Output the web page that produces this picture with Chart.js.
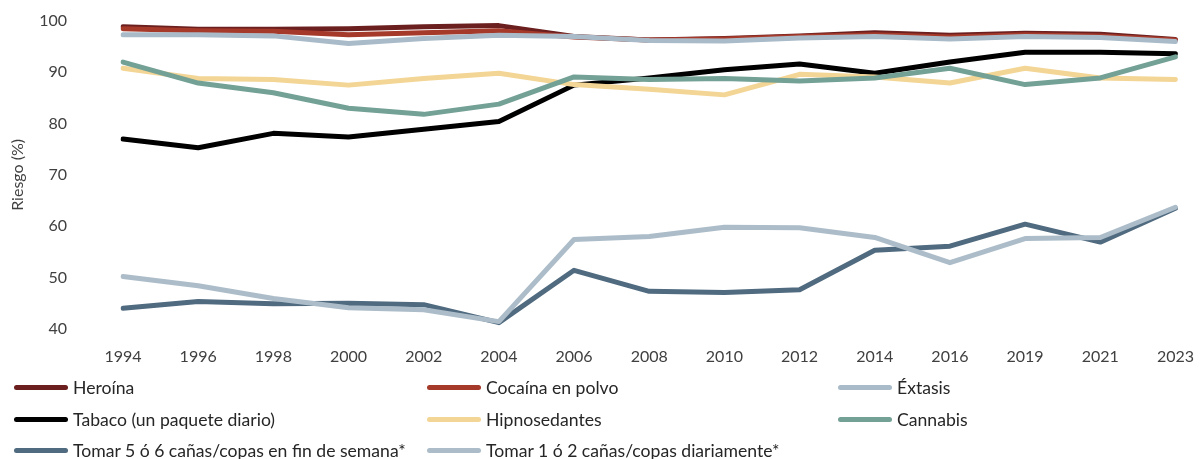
<!DOCTYPE html>
<html>
<head>
<meta charset="utf-8">
<script src="https://cdn.jsdelivr.net/npm/chart.js@4.4.1/dist/chart.umd.min.js"></script>
<style>
  html, body { margin: 0; padding: 0; background: #fff; overflow: hidden; }
  #wrap { position: absolute; left: 0; top: 0; width: 1204px; height: 376px; }
  #legend { position: absolute; left: 0; top: 0; width: 1204px; height: 459px; font-family: Lato, "Open Sans", sans-serif; font-size: 17.6px; color: #262626; pointer-events: none; }
  .item { position: absolute; display: flex; align-items: center; white-space: nowrap; height: 20px; }
  .swatch { width: 54px; height: 5px; border-radius: 3px; margin-right: 5px; }
</style>
</head>
<body>
<div id="wrap"><canvas id="chart" width="1204" height="376"></canvas></div>
<div id="legend"></div>
<script>
// Years
const years = ["1994", "1996", "1998", "2000", "2002", "2004", "2006", "2008", "2010", "2012", "2014", "2016", "2019", "2021", "2023"];

// Series values (% riesgo percibido)
const heroina      = [98.9, 98.4, 98.4, 98.5, 98.9, 99.1, 97.0, 96.3, 96.6, 97.1, 97.7, 97.2, 97.6, 97.4, 96.4];
const cocaina      = [98.5, 98.1, 98.0, 97.3, 97.7, 98.1, 96.9, 96.3, 96.5, 97.0, 97.3, 96.9, 97.3, 97.1, 96.3];
const extasis      = [97.3, 97.3, 97.1, 95.6, 96.6, 97.2, 97.0, 96.2, 96.1, 96.7, 97.0, 96.5, 97.0, 96.8, 96.0];
const tabaco       = [77.0, 75.3, 78.1, 77.4, 78.9, 80.4, 87.5, 88.9, 90.5, 91.6, 89.8, 92.0, 93.9, 93.9, 93.6];
const hipnosed     = [90.8, 88.8, 88.6, 87.5, 88.8, 89.8, 87.6, 86.7, 85.6, 89.6, 89.1, 87.9, 90.8, 88.9, 88.6];
const cannabis     = [92.0, 87.9, 86.0, 83.0, 81.8, 83.8, 89.1, 88.6, 88.8, 88.3, 88.9, 90.8, 87.6, 88.9, 93.0];
const tomar56      = [44.0, 45.3, 44.9, 45.0, 44.7, 41.2, 51.4, 47.3, 47.1, 47.6, 55.3, 56.1, 60.4, 56.9, 63.5];
const tomar12      = [50.2, 48.4, 45.9, 44.1, 43.7, 41.4, 57.4, 58.0, 59.8, 59.7, 57.8, 52.9, 57.6, 57.8, 63.7];

const seriesNames = [
  "Heroína", "Cocaína en polvo", "Éxtasis",
  "Tabaco (un paquete diario)", "Hipnosedantes", "Cannabis",
  "Tomar 5 ó 6 cañas/copas en fin de semana*", "Tomar 1 ó 2 cañas/copas diariamente*"
];
const seriesData = [heroina, cocaina, extasis, tabaco, hipnosed, cannabis, tomar56, tomar12];
const seriesColors = ["#6B1F1F", "#A5392A", "#A9BBC8", "#000000", "#F3D595", "#74A195", "#506A7F", "#ACBDC9"];

const datasets = seriesNames.map((name, i) => ({
  label: name,
  data: seriesData[i],
  borderColor: seriesColors[i],
  backgroundColor: seriesColors[i],
  borderWidth: 5,
  borderCapStyle: "round",
  borderJoinStyle: "round",
  pointRadius: 0,
  tension: 0,
  order: seriesNames.length - i   // later series drawn on top
}));

const chart = new Chart(document.getElementById("chart"), {
  type: "line",
  data: { labels: years, datasets },
  options: {
    responsive: false,
    animation: false,
    layout: { padding: { top: 21, right: 0, left: 0, bottom: 0 } },
    plugins: { legend: { display: false }, tooltip: { enabled: false } },
    scales: {
      x: {
        grid: { display: false },
        border: { display: false },
        ticks: { color: "#404040", font: { family: "Lato", size: 16 }, padding: 10, maxRotation: 0, autoSkip: false }
      },
      y: {
        min: 40,
        max: 100,
        grid: { display: false },
        border: { display: false },
        ticks: { stepSize: 10, color: "#404040", font: { family: "Lato", size: 16 }, padding: 48 },
        title: { display: true, text: "Riesgo (%)", color: "#404040", font: { family: "Lato", size: 16 }, padding: 8 },
        afterFit: s => { s.width = 123; s.paddingTop = 10; s.paddingBottom = 10; }
      }
    }
  }
});

// Legend (3 columns)
const legendEl = document.getElementById("legend");
const colX = [14, 427, 838];
const rowY = [387, 419, 450];
chart.data.datasets.forEach((ds, i) => {
  const item = document.createElement("div");
  item.className = "item";
  item.style.left = colX[i % 3] + "px";
  item.style.top = (rowY[Math.floor(i / 3)] - 10) + "px";
  item.innerHTML = `<span class="swatch" style="background:${ds.borderColor}"></span><span>${ds.label}</span>`;
  legendEl.appendChild(item);
});
</script>
</body>
</html>
